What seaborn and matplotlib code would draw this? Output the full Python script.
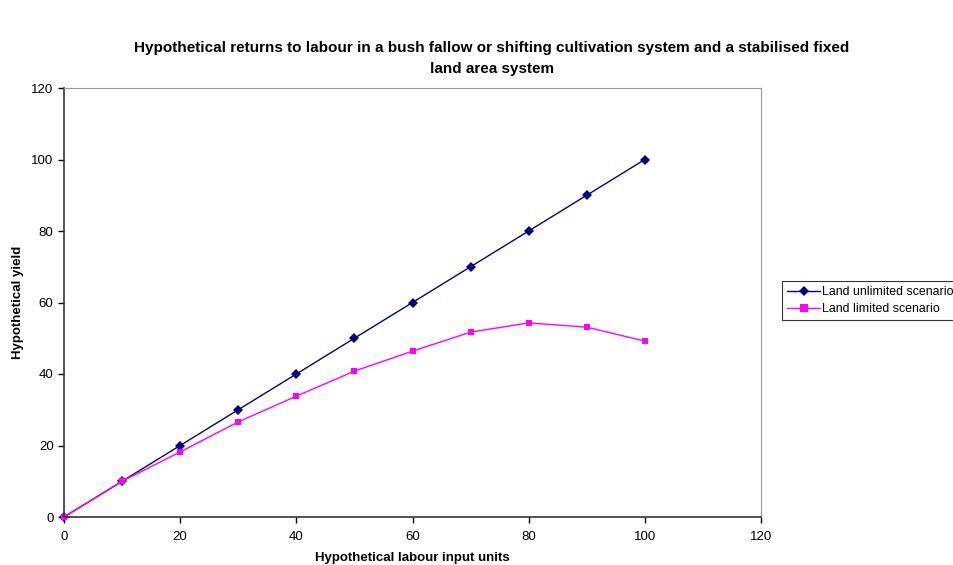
import matplotlib
matplotlib.use("Agg")
import matplotlib.pyplot as plt
import seaborn as sns
import pandas as pd
from matplotlib.lines import Line2D

labour = [0, 10, 20, 30, 40, 50, 60, 70, 80, 90, 100]
unlimited = [0, 10, 20, 30, 40, 50, 60, 70, 80, 90, 100]
limited = [0, 10, 18.2, 26.6, 33.8, 40.8, 46.4, 51.7, 54.3, 53.1, 49.2]
series_names = ["Land unlimited scenario", "Land limited scenario"]

df = pd.DataFrame({
    "x": labour * 2,
    "y": unlimited + limited,
    "series": [series_names[0]] * len(labour) + [series_names[1]] * len(labour),
})

sns.set_style("white")
plt.rcParams["font.family"] = ["Liberation Sans", "DejaVu Sans"]
plt.rcParams["text.color"] = "black"
plt.rcParams["axes.labelcolor"] = "black"
plt.rcParams["xtick.color"] = "black"
plt.rcParams["ytick.color"] = "black"

fig = plt.figure(figsize=(9.54, 5.65), dpi=100)
ax = fig.add_axes([64 / 954, 48 / 565, 697 / 954, 429 / 565])

sns.lineplot(data=df, x="x", y="y", hue="series", style="series",
             palette={series_names[0]: "#000080", series_names[1]: "#FF00FF"},
             markers={series_names[0]: "D", series_names[1]: "s"},
             dashes=False, markersize=5, linewidth=1.0,
             markeredgewidth=0, ax=ax, legend=False, clip_on=False)

ax.set_xlim(0, 120)
ax.set_ylim(0, 120)
ax.set_xticks(range(0, 121, 20))
ax.set_yticks(range(0, 121, 20))
ax.tick_params(axis="both", which="both", direction="out", length=4, width=1,
               labelsize=9.5, bottom=True, left=True, colors="#000000")
ax.tick_params(axis="x", pad=6)
for side in ["left", "bottom"]:
    ax.spines[side].set_color("#333333")
    ax.spines[side].set_linewidth(1.2)
for side in ["top", "right"]:
    ax.spines[side].set_visible(True)
    ax.spines[side].set_color("#999999")
    ax.spines[side].set_linewidth(0.8)

ax.set_xlabel("Hypothetical labour input units", fontsize=9.5, fontweight="bold")
ax.xaxis.set_label_coords(0.5, -(558 - 517) / 429)
ax.xaxis.label.set_va("center")
ax.set_ylabel("Hypothetical yield", fontsize=9.5, fontweight="bold")
ax.yaxis.set_label_coords(-(64 - 18) / 697, 0.5)
ax.yaxis.label.set_va("center")

fig.text(492 / 954, 1 - 58.5 / 565,
         "Hypothetical returns to labour in a bush fallow or shifting cultivation system and a stabilised fixed\nland area system",
         ha="center", va="center", fontsize=11, fontweight="bold", linespacing=1.6)

handles = [
    Line2D([], [], color="#000080", marker="D", markersize=5, markeredgewidth=0, linewidth=1.0),
    Line2D([], [], color="#FF00FF", marker="s", markersize=6, markeredgewidth=0, linewidth=1.0),
]
leg = fig.legend(handles, series_names, loc="upper left",
                 bbox_to_anchor=(782 / 954, 1 - 281 / 565), frameon=True,
                 fontsize=8.9, fancybox=False, borderpad=0.4, handlelength=2.7,
                 handletextpad=0.1, labelspacing=0.4, borderaxespad=0)
leg.get_frame().set_edgecolor("#000000")
leg.get_frame().set_linewidth(0.8)

fig.savefig("out.png", dpi=100)
